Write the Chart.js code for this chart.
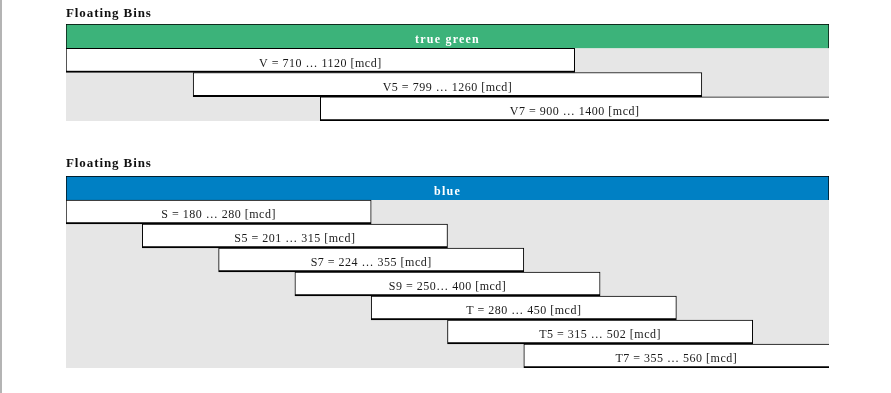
<!DOCTYPE html>
<html>
<head>
<meta charset="utf-8">
<script src="https://cdn.jsdelivr.net/npm/chart.js@4.4.1/dist/chart.umd.min.js"></script>
<style>
  html, body { margin: 0; padding: 0; background: #ffffff; }
  body { width: 891px; height: 393px; position: relative; overflow: hidden; }
  #edge { position: absolute; left: 0; top: 0; width: 2px; height: 393px; background: #b4b4b4; }
  canvas { position: absolute; left: 0; }
  #c1 { top: 0; }
  #c2 { top: 150px; }
</style>
</head>
<body>
<div id="edge"></div>
<canvas id="c1" width="891" height="130"></canvas>
<canvas id="c2" width="891" height="243"></canvas>
<script>
// ---- data ----
const chartTitle = 'Floating Bins';

const greenHeader = 'true green';
const greenRows = ['V', 'V5', 'V7'];
const greenText = ['V = 710 … 1120 [mcd]', 'V5 = 799 … 1260 [mcd]', 'V7 = 900 … 1400 [mcd]'];
const greenStart = [0, 1, 2];
const greenEnd = [4, 5, 6];
const greenSlots = 6;

const blueHeader = 'blue';
const blueRows = ['S', 'S5', 'S7', 'S9', 'T', 'T5', 'T7'];
const blueText = ['S = 180 … 280 [mcd]', 'S5 = 201 … 315 [mcd]', 'S7 = 224 … 355 [mcd]',
                  'S9 = 250… 400 [mcd]', 'T = 280 … 450 [mcd]', 'T5 = 315 … 502 [mcd]',
                  'T7 = 355 … 560 [mcd]'];
const blueStart = [0, 1, 2, 3, 4, 5, 6];
const blueEnd = [4, 5, 6, 7, 8, 9, 10];
const blueSlots = 10;

const SERIF = '"Liberation Serif", "Times New Roman", serif';

const binPlugin = {
  id: 'bins',
  beforeDatasetsDraw(chart) {
    const a = chart.chartArea, ctx = chart.ctx;
    ctx.save();
    ctx.fillStyle = '#e6e6e6';
    ctx.fillRect(a.left, a.top, a.right - a.left, a.bottom - a.top);
    ctx.restore();
  },
  afterDatasetsDraw(chart) {
    const ctx = chart.ctx, a = chart.chartArea;
    const o = chart.options.plugins.bins;
    const meta = chart.getDatasetMeta(0);
    ctx.save();
    // title
    ctx.fillStyle = '#111';
    ctx.font = 'bold 13px ' + SERIF;
    ctx.letterSpacing = '0.9px';
    ctx.textAlign = 'left';
    ctx.textBaseline = 'alphabetic';
    ctx.fillText(chartTitle, a.left, o.titleY);
    // labels
    meta.data.forEach((bar, i) => {
      const cx = (bar.x + bar.base) / 2;
      ctx.textAlign = 'center';
      ctx.textBaseline = 'middle';
      if (i === 0) {
        ctx.fillStyle = '#ffffff';
        ctx.font = 'bold 12px ' + SERIF;
        ctx.letterSpacing = '1.2px';
        ctx.fillText(o.texts[i], cx, bar.y + 4);
      } else {
        ctx.fillStyle = '#1a1a1a';
        ctx.font = '12px ' + SERIF;
        ctx.letterSpacing = '0.5px';
        ctx.fillText(o.texts[i], cx, bar.y + 3);
      }
    });
    ctx.restore();
  }
};

function makeChart(id, header, rows, texts, starts, ends, slots, color, pad, titleY) {
  const labels = [header].concat(rows);
  const data = [[0, slots]].concat(starts.map((s, i) => [s, ends[i]]));
  const colors = [color].concat(rows.map(() => '#ffffff'));
  return new Chart(document.getElementById(id), {
    type: 'bar',
    data: {
      labels: labels,
      datasets: [{
        data: data,
        backgroundColor: colors,
        borderColor: '#000000',
        borderSkipped: false,
        borderWidth: (ctx) => {
          if (ctx.dataIndex === 0) return { top: 1, left: 1, right: 1, bottom: 0 };
          const v = ctx.raw;
          return { top: 1, left: 1, right: v[1] >= slots ? 0 : 1, bottom: 2 };
        },
        barPercentage: 1,
        categoryPercentage: 1
      }]
    },
    options: {
      indexAxis: 'y',
      responsive: false,
      animation: false,
      events: [],
      layout: { padding: pad },
      scales: {
        x: { display: false, min: 0, max: slots },
        y: { display: false }
      },
      plugins: {
        legend: { display: false },
        tooltip: { enabled: false },
        title: { display: false },
        bins: { texts: [header].concat(texts), titleY: titleY }
      }
    },
    plugins: [binPlugin]
  });
}

makeChart('c1', greenHeader, greenRows, greenText, greenStart, greenEnd, greenSlots,
          '#3cb37a', { left: 66, right: 62, top: 24, bottom: 9 }, 17);
makeChart('c2', blueHeader, blueRows, blueText, blueStart, blueEnd, blueSlots,
          '#0080c4', { left: 66, right: 62, top: 26, bottom: 25 }, 17);
</script>
</body>
</html>
